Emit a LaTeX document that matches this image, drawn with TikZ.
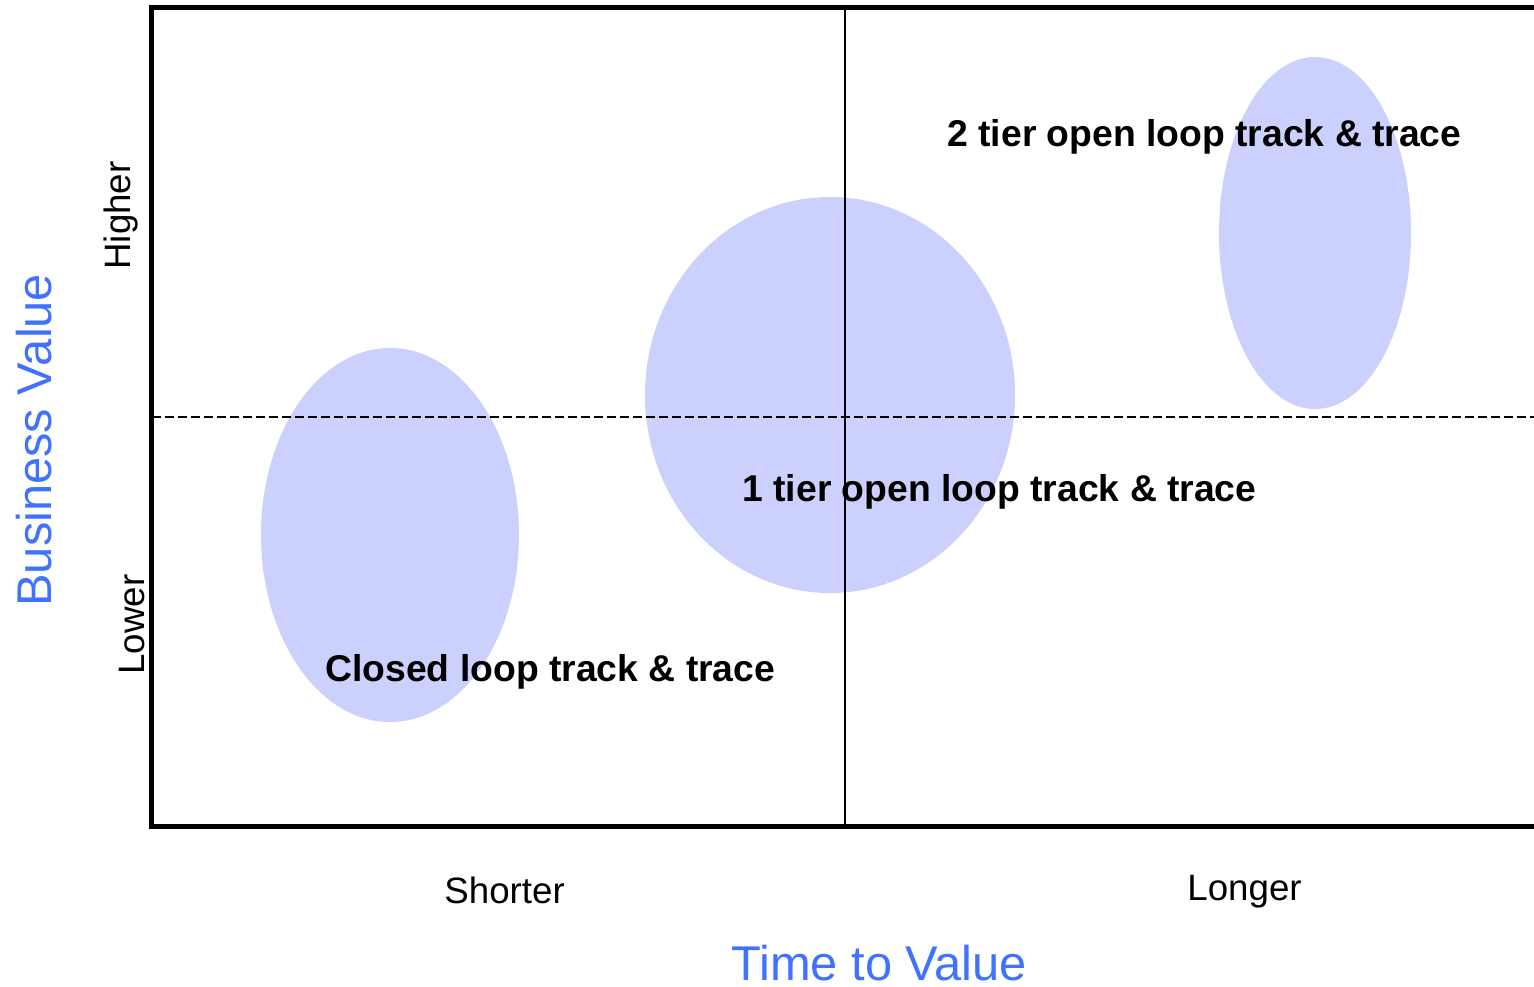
\documentclass[tikz,border=0pt]{standalone}
\usepackage{fontspec}
\setmainfont{Liberation Sans}
\usetikzlibrary{shapes.geometric}
\definecolor{blobfill}{RGB}{204,208,252}
\definecolor{titleblue}{RGB}{64,114,255}
\tikzset{
  blob/.style={ellipse, fill=blobfill, draw=none, inner sep=0pt},
  frameline/.style={line width=2.5pt, line cap=rect},
  divider/.style={line width=1pt},
  midline/.style={line width=1pt, dash pattern=on 4.5pt off 2pt},
  boldlabel/.style={inner sep=0pt, anchor=base west, font=\fontsize{18.65}{20}\selectfont\bfseries},
  ticklabel/.style={inner sep=0pt, anchor=base west, font=\fontsize{18.35}{20}\selectfont},
  axistitle/.style={inner sep=0pt, anchor=base west, text=titleblue, text depth=0pt, font=\fontsize{24.4}{26}\selectfont},
}
\begin{document}
\begin{tikzpicture}[x=0.5pt, y=-0.5pt]
\useasboundingbox (0,0) rectangle (1534,986);
% ellipses
\node[blob, minimum width=129pt, minimum height=187pt] (bl) at (390,535) {};
\node[blob, minimum width=185pt, minimum height=198pt] (bm) at (830,395) {};
\node[blob, minimum width=96pt, minimum height=176pt] (br) at (1315,233) {};
% frame coordinates
\coordinate (tl) at (151.5,7.5);
\coordinate (tr) at (1545,7.5);
\coordinate (bli) at (151.5,826.5);
\coordinate (bri) at (1545,826.5);
\coordinate (vt) at (845,7.5);
\coordinate (vb) at (845,826.5);
\coordinate (hl) at (151.5,416.5);
\coordinate (hr) at (1534,416.5);
% lines
\draw[midline] (hl) -- (hr);
\draw[divider] (vt) -- (vb);
\draw[frameline] (tr) -- (tl) -- (bli) -- (bri);
% labels
\node[boldlabel] (t2) at (947,146) {2 tier open loop track \& trace};
\node[boldlabel] (t1) at (742,501) {1 tier open loop track \& trace};
\node[boldlabel] (tc) at (325,681) {Closed loop track \& trace};
\node[ticklabel] (shorter) at (444,903) {Shorter};
\node[ticklabel] (longer) at (1187,900) {Longer};
\node[ticklabel, rotate=90] (higher) at (130,270) {Higher};
\node[ticklabel, rotate=90] (lower) at (144,675) {Lower};
\node[axistitle] (xtitle) at (731,980) {Time to Value};
\node[axistitle, rotate=90] (ytitle) at (51,607) {Business Value};
\end{tikzpicture}
\end{document}
